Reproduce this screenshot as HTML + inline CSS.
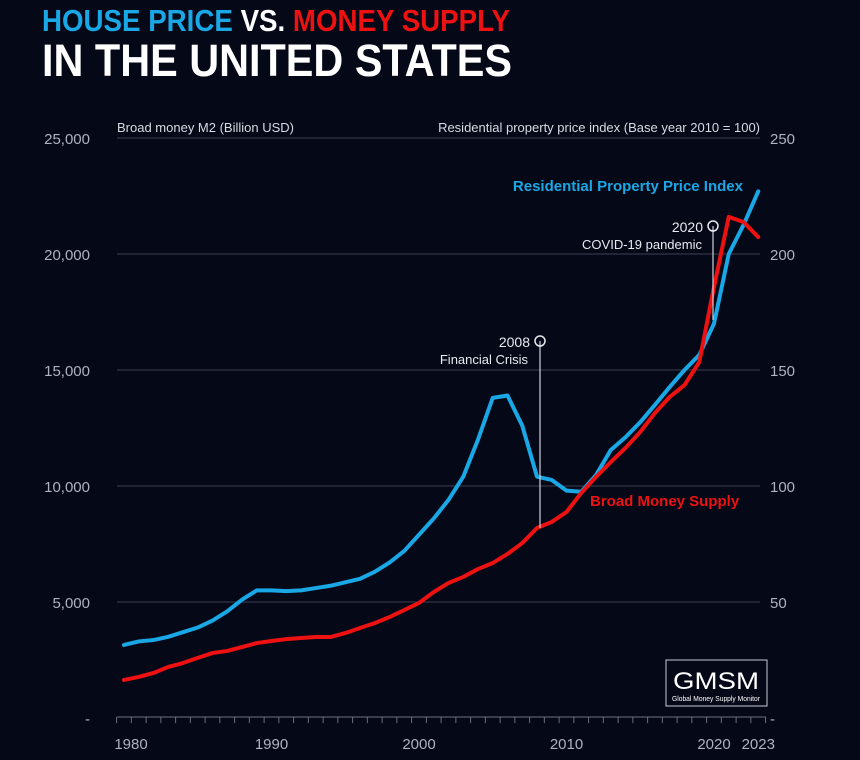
<!DOCTYPE html>
<html><head><meta charset="utf-8"><style>
html,body{margin:0;padding:0;background:#050817;}
svg{display:block;font-family:"Liberation Sans",sans-serif;}
</style></head><body>
<svg id="chart" width="860" height="760" viewBox="0 0 860 760">
<rect width="860" height="760" fill="#050817"/>
<text x="42" y="31" font-size="31" font-weight="bold" textLength="468" lengthAdjust="spacingAndGlyphs"><tspan fill="#1aa7e6">HOUSE PRICE </tspan><tspan fill="#ffffff">VS. </tspan><tspan fill="#ee1111">MONEY SUPPLY</tspan></text>
<text x="42" y="76" font-size="45" font-weight="bold" fill="#ffffff" textLength="470" lengthAdjust="spacingAndGlyphs">IN THE UNITED STATES</text>
<text x="117" y="132" font-size="13" fill="#d8dbe3">Broad money  M2 (Billion USD)</text>
<text x="760" y="132" font-size="13" fill="#d8dbe3" text-anchor="end">Residential property price index (Base year 2010 = 100)</text>
<g id="grid"></g><g id="ticks"></g><g id="labels"></g><g id="lines"></g>
<line x1="540" y1="341" x2="540" y2="528" stroke="#cfd2da" stroke-width="1.2"/>
<circle cx="540" cy="341" r="5" fill="none" stroke="#e8eaf0" stroke-width="1.5"/>
<text x="530" y="347" font-size="14" fill="#e8eaf0" text-anchor="end">2008</text>
<text x="528" y="364" font-size="13" fill="#e8eaf0" text-anchor="end">Financial Crisis</text>
<line x1="713" y1="226" x2="713" y2="320" stroke="#cfd2da" stroke-width="1.2"/>
<circle cx="713" cy="226" r="5" fill="none" stroke="#e8eaf0" stroke-width="1.5"/>
<text x="703" y="232" font-size="14" fill="#e8eaf0" text-anchor="end">2020</text>
<text x="702" y="249" font-size="13" fill="#e8eaf0" text-anchor="end">COVID-19 pandemic</text>
<text x="743" y="191" font-size="15" font-weight="bold" fill="#1aa7e6" text-anchor="end">Residential Property Price Index</text>
<text x="590" y="506" font-size="15" font-weight="bold" fill="#ee1111">Broad Money Supply</text>
<g>
<rect x="666" y="660" width="101" height="46" fill="none" stroke="#c8ccd6" stroke-width="1"/>
<text x="716" y="689" font-size="24" fill="#ffffff" text-anchor="middle" textLength="86" lengthAdjust="spacingAndGlyphs">GMSM</text>
<text x="716" y="701" font-size="7.5" fill="#ffffff" text-anchor="middle" textLength="88" lengthAdjust="spacingAndGlyphs">Global Money Supply Monitor</text>
</g>
</svg>
<script>
const years=[1980,1981,1982,1983,1984,1985,1986,1987,1988,1989,1990,1991,1992,1993,1994,1995,1996,1997,1998,1999,2000,2001,2002,2003,2004,2005,2006,2007,2008,2009,2010,2011,2012,2013,2014,2015,2016,2017,2018,2019,2020,2021,2022,2023];
const moneySupply=[1640,1770,1940,2200,2370,2590,2800,2890,3060,3230,3320,3400,3450,3490,3490,3660,3880,4090,4350,4650,4960,5430,5820,6080,6420,6680,7070,7540,8190,8450,8880,9700,10390,11030,11640,12330,13150,13840,14350,15340,18580,21600,21380,20730];
const houseIndex=[31.5,33,33.6,35,37,39,42,46,51,55,55,54.7,55,56,57,58.5,60,63,67,72,79,86,94,104,120,138,139,126,104,102.6,98,97.5,104.7,115.5,121,127.5,135,142.7,150,156.5,170,200,212.5,227];
const leftTicks=["-","5,000","10,000","15,000","20,000","25,000"];
const rightTicks=["-","50","100","150","200","250"];
const xLabels=[1980,1990,2000,2010,2020,2023];
const NS="http://www.w3.org/2000/svg";
const X=y=>124+(y-1980)*14.75;
const YL=v=>718-v*0.0232;
const YR=v=>718-v*2.32;
function mk(t,a,p){const e=document.createElementNS(NS,t);for(const k in a)e.setAttribute(k,a[k]);p.appendChild(e);return e;}
const grid=document.getElementById('grid'),ticks=document.getElementById('ticks'),labels=document.getElementById('labels'),lines=document.getElementById('lines');
leftTicks.forEach((t,i)=>{
  const y=YL(i*5000);
  if(i>0){const g=mk('line',{x1:117,x2:760,y1:y,y2:y,stroke:'#3a3f52','stroke-width':1},grid);
  
  }
  const l=mk('text',{x:90,y:y+6,'font-size':15,fill:'#aeb3c0','text-anchor':'end'},labels);l.textContent=t;
  
  
});
rightTicks.forEach((t,i)=>{
  const y=YR(i*50);
  const l=mk('text',{x:770,y:y+6,'font-size':15,fill:'#aeb3c0'},labels);l.textContent=t;
  
  
});
const base=mk('line',{x1:117,x2:766,y1:717,y2:717,stroke:'#6a6f80','stroke-width':1},ticks);


for(let y=1980;y<=2024;y++){
  const tx=X(y)-7.4;
  const t=mk('line',{x1:tx,x2:tx,y1:717,y2:723,stroke:'#6a6f80','stroke-width':1},ticks);
  
  
}
xLabels.forEach(yr=>{
  const l=mk('text',{x:X(yr)+(yr===1980?7:0),y:749,'font-size':15,fill:'#aeb3c0','text-anchor':'middle'},labels);l.textContent=yr;
  
  
});
const pb=mk('polyline',{points:years.map((y,i)=>X(y)+','+YR(houseIndex[i])).join(' '),fill:'none',stroke:'#1aa7e6','stroke-width':4,'stroke-linejoin':'round','stroke-linecap':'round'},lines);


const pr=mk('polyline',{points:years.map((y,i)=>X(y)+','+YL(moneySupply[i])).join(' '),fill:'none',stroke:'#ee1111','stroke-width':4,'stroke-linejoin':'round','stroke-linecap':'round'},lines);


</script>
</body></html>
